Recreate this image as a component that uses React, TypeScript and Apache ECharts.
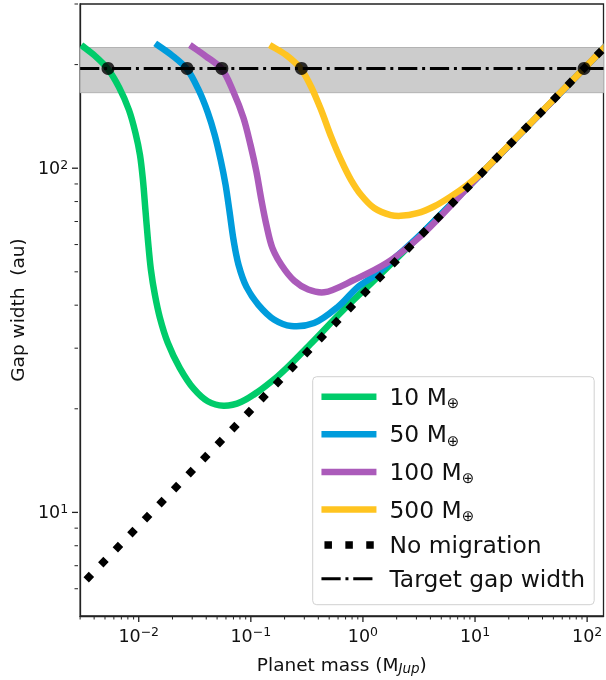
import React, { useEffect, useRef } from 'react';
import * as echarts from 'echarts';

// Planet mass (M_Jup) vs gap width (au) for each migration case
const migration10: [number, number][] = [
  [0.00307, 228], [0.004, 213], [0.00532, 194], [0.00667, 172], [0.00818, 147.6], [0.00935, 126.6],
  [0.01026, 109.3], [0.0109, 92.5], [0.01147, 75.7], [0.01208, 61.9], [0.01284, 50.7], [0.01393, 42.9],
  [0.01543, 36.8], [0.01816, 31.1], [0.0232, 26.3], [0.0309, 22.87], [0.0412, 21.03], [0.0571, 20.4],
  [0.0825, 20.96], [0.172, 24.8], [0.339, 30.8], [0.662, 38.6], [1.2, 46.5], [3, 62.3],
  [10, 92.5], [30, 133], [94, 195], [150, 228],
];
const migration50: [number, number][] = [
  [0.01402, 230.6], [0.01972, 213], [0.027, 194], [0.0343, 168.6], [0.0412, 145.6], [0.0476, 125],
  [0.0538, 105.7], [0.0595, 89.5], [0.0646, 74.7], [0.0701, 61.9], [0.0777, 52.4], [0.0914, 45.2],
  [0.1168, 40.1], [0.162, 36.3], [0.229, 34.8], [0.367, 35.5], [0.6, 39.6], [0.903, 45.2],
  [1.3, 49], [2, 55.5], [3, 62.5], [10, 92.5], [30, 133], [94, 195], [150, 228],
];
const migration100: [number, number][] = [
  [0.0286, 228], [0.0395, 211.8], [0.0552, 194], [0.07, 166.5], [0.086, 140], [0.0993, 116.9],
  [0.1122, 97.6], [0.1242, 80.9], [0.1377, 68.4], [0.1556, 58.7], [0.187, 52.4], [0.244, 47.1],
  [0.325, 44.4], [0.451, 43.6], [0.838, 47.4], [1.656, 53.2], [3.27, 63.5],
  [10, 92.5], [30, 133], [94, 195], [150, 228],
];
const migration500: [number, number][] = [
  [0.1472, 228], [0.207, 213], [0.281, 194], [0.345, 172.5], [0.424, 147.6], [0.52, 123.5],
  [0.637, 105.7], [0.782, 92.5], [0.96, 83.7], [1.259, 76.6], [1.77, 73.1], [2.17, 72.7],
  [3.06, 74], [4.3, 77.4], [6.05, 82.7], [8.51, 89.4], [11.95, 98.3], [16.8, 110], [30, 133.3],
  [94, 195], [150, 228],
];
const noMigration: [number, number][] = [[0.0034, 6.37], [1, 42.9], [94, 195], [150, 228]];
const targetGap: [number, number][] = [[0.003, 195], [140, 195]];
const targetBand = [165.75, 224.25];
const crossings: [number, number][] = [[0.00532, 195], [0.027, 195], [0.0552, 195], [0.283, 195], [94, 195]];

const seriesNames = ['10 M⊕', '50 M⊕', '100 M⊕', '500 M⊕'];
const seriesColors = ['#00cc6a', '#009cdc', '#ab5bba', '#ffc420'];
const curves = [migration10, migration50, migration100, migration500];

const xMajorTicks = [0.01, 0.1, 1, 10, 100];
const xMinorTicks = [
  0.003, 0.004, 0.005, 0.006, 0.007, 0.008, 0.009,
  0.02, 0.03, 0.04, 0.05, 0.06, 0.07, 0.08, 0.09,
  0.2, 0.3, 0.4, 0.5, 0.6, 0.7, 0.8, 0.9,
  2, 3, 4, 5, 6, 7, 8, 9,
  20, 30, 40, 50, 60, 70, 80, 90,
];
const yMajorTicks = [10, 100];
const yMinorTicks = [6, 7, 8, 9, 20, 30, 40, 50, 60, 70, 80, 90, 200, 300];

const FONT = 'DejaVu Sans';
const TXT = '#111';

function supLabel(v: number): string {
  const e = Math.log10(v);
  const r = Math.round(e);
  if (Math.abs(e - r) > 1e-6) return '';
  return '10{sup|' + (r < 0 ? '\u2212' + -r : String(r)) + '}';
}

// centripetal Catmull-Rom through pixel points -> SVG path data
function smoothPath(pts: number[][]): string {
  const n = pts.length;
  const dist = (a: number[], b: number[]) => Math.hypot(a[0] - b[0], a[1] - b[1]);
  let d = `M${pts[0][0]},${pts[0][1]}`;
  for (let i = 0; i < n - 1; i++) {
    const p1 = pts[i];
    const p2 = pts[i + 1];
    const p0 = i === 0 ? [2 * p1[0] - p2[0], 2 * p1[1] - p2[1]] : pts[i - 1];
    const p3 = i + 2 < n ? pts[i + 2] : [2 * p2[0] - p1[0], 2 * p2[1] - p1[1]];
    const d1 = Math.sqrt(dist(p0, p1));
    const d2 = Math.sqrt(dist(p1, p2));
    const d3 = Math.sqrt(dist(p2, p3));
    let b1 = p1;
    let b2 = p2;
    if (d1 > 1e-6 && d2 > 1e-6) {
      b1 = [0, 1].map((k) => (d1 * d1 * p2[k] - d2 * d2 * p0[k] + (2 * d1 * d1 + 3 * d1 * d2 + d2 * d2) * p1[k]) / (3 * d1 * (d1 + d2)));
    }
    if (d3 > 1e-6 && d2 > 1e-6) {
      b2 = [0, 1].map((k) => (d3 * d3 * p1[k] - d2 * d2 * p3[k] + (2 * d3 * d3 + 3 * d3 * d2 + d2 * d2) * p2[k]) / (3 * d3 * (d3 + d2)));
    }
    d += ` C${b1[0]},${b1[1]} ${b2[0]},${b2[1]} ${p2[0]},${p2[1]}`;
  }
  return d;
}

export default function App() {
  const ref = useRef<HTMLDivElement>(null);
  useEffect(() => {
    if (!ref.current) return;
    const chart = echarts.init(ref.current, undefined, { renderer: 'svg' });
    const tickRich = {
      sup: { fontSize: 12.5, fontFamily: FONT, color: TXT, padding: [0, 0, 8, 0] },
    };
    // legend carriers (no data) so the legend shows line icons
    const legendCarriers = seriesNames.map((n, i) => ({
      name: n,
      type: 'line',
      data: [],
      symbol: 'none',
      lineStyle: { color: seriesColors[i], width: 6.5 },
      itemStyle: { color: seriesColors[i] },
      silent: true,
    }));
    const curveSeries = curves.map((d, i) => ({
      name: seriesNames[i],
      type: 'custom',
      data: d,
      encode: { x: 0, y: 1 },
      z: 2,
      silent: true,
      itemStyle: { color: seriesColors[i] },
      renderItem: (params: any, api: any) => {
        if (params.dataIndex !== 0) return null;
        const pts = d.map((p) => api.coord(p));
        const cs = params.coordSys;
        return {
          type: 'path',
          shape: { pathData: smoothPath(pts) },
          style: { stroke: seriesColors[i], lineWidth: 6.5, fill: 'none', lineJoin: 'round' },
          clipPath: { type: 'rect', shape: { x: cs.x, y: cs.y, width: cs.width, height: cs.height } },
        };
      },
    }));
    const option: any = {
      animation: false,
      grid: { left: 78, right: 2.5, top: 4, bottom: 64, show: true, borderColor: '#222', borderWidth: 1.3, backgroundColor: 'transparent' },
      xAxis: {
        type: 'log',
        logBase: 10,
        min: 0.003,
        max: 140,
        name: 'Planet mass (M{sub|Jup})',
        nameLocation: 'middle',
        nameGap: 38,
        nameTextStyle: {
          fontSize: 18.5, fontFamily: FONT, color: TXT,
          rich: { sub: { fontSize: 13.5, fontStyle: 'italic', fontFamily: FONT, color: TXT, padding: [7, 0, 0, 0] } },
        },
        axisLine: { show: true, lineStyle: { color: '#222', width: 1.3 } },
        axisTick: { show: false },
        splitLine: { show: false },
        axisLabel: { formatter: supLabel, fontSize: 17.5, fontFamily: FONT, color: TXT, margin: 9, rich: tickRich, showMinLabel: false, showMaxLabel: false },
      },
      yAxis: {
        type: 'log',
        logBase: 10,
        min: 5,
        max: 300,
        name: 'Gap width  (au)',
        nameLocation: 'middle',
        nameGap: 51,
        nameTextStyle: { fontSize: 18.5, fontFamily: FONT, color: TXT },
        axisLine: { show: true, lineStyle: { color: '#222', width: 1.3 } },
        axisTick: { show: false },
        splitLine: { show: false },
        axisLabel: { formatter: supLabel, fontSize: 17.5, fontFamily: FONT, color: TXT, margin: 12, rich: tickRich, showMinLabel: false, showMaxLabel: false },
      },
      legend: {
        orient: 'vertical',
        left: 312.7,
        top: 376.7,
        padding: [6, 9, 14, 5],
        itemWidth: 55,
        itemHeight: 14,
        itemGap: 9.6,
        selectedMode: false,
        backgroundColor: 'rgba(255,255,255,0.8)',
        borderColor: '#d0d0d0',
        borderWidth: 1,
        borderRadius: 4,
        formatter: (name: string) => name.replace('M⊕', 'M{sub|⊕}'),
        textStyle: {
          fontSize: 23.4, fontFamily: FONT, color: TXT, lineHeight: 28, padding: [0, 0, 0, 8],
          rich: { sub: { fontSize: 15, fontFamily: FONT, color: TXT, padding: [13, 0, 0, 0] } },
        },
        data: [
          ...seriesNames.map((n) => ({ name: n, lineStyle: { width: 6.5 }, itemStyle: { opacity: 0 } })),
          { name: 'No migration', lineStyle: { width: 7.5, type: [7.5, 13.4], dashOffset: -3 }, itemStyle: { opacity: 0 }, textStyle: { lineHeight: 24 } },
          { name: 'Target gap width', lineStyle: { width: 3, type: [19.2, 4.8, 3, 4.8] }, itemStyle: { opacity: 0 }, textStyle: { lineHeight: 24 } },
        ],
      },
      series: [
        ...legendCarriers,
        ...curveSeries,
        {
          name: 'No migration',
          type: 'line',
          data: noMigration,
          symbol: 'none',
          showSymbol: false,
          z: 3,
          silent: true,
          lineStyle: { color: '#000', width: 7.5, type: [7.5, 13.4], cap: 'butt' },
          itemStyle: { color: '#000' },
        },
        {
          name: 'Target gap width',
          type: 'line',
          data: targetGap,
          symbol: 'none',
          showSymbol: false,
          z: 4,
          silent: true,
          lineStyle: { color: '#000', width: 3, type: [19.2, 4.8, 3, 4.8] },
          itemStyle: { color: '#000' },
          markArea: {
            silent: true,
            z: 1,
            itemStyle: { color: '#cccccc', borderColor: '#b3b3b3', borderWidth: 1 },
            data: [[{ yAxis: targetBand[0] }, { yAxis: targetBand[1] }]],
          },
        },
        {
          name: 'crossings',
          type: 'scatter',
          data: crossings,
          symbol: 'circle',
          symbolSize: 13,
          z: 5,
          silent: true,
          itemStyle: { color: '#000' },
        },
      ],
    };
    chart.setOption(option);

    const els: any[] = [];
    const xAxisY = 616;
    const yAxisX = 78;
    const addX = (v: number, len: number, w: number) => {
      const px = chart.convertToPixel({ xAxisIndex: 0 }, v) as number;
      els.push({ type: 'line', silent: true, shape: { x1: px, y1: xAxisY, x2: px, y2: xAxisY + len }, style: { stroke: '#222', lineWidth: w } });
    };
    const addY = (v: number, len: number, w: number) => {
      const py = chart.convertToPixel({ yAxisIndex: 0 }, v) as number;
      els.push({ type: 'line', silent: true, shape: { x1: yAxisX, y1: py, x2: yAxisX - len, y2: py }, style: { stroke: '#222', lineWidth: w } });
    };
    xMajorTicks.forEach((v) => addX(v, 6, 1.3));
    xMinorTicks.forEach((v) => addX(v, 3.5, 1));
    yMajorTicks.forEach((v) => addY(v, 6, 1.3));
    yMinorTicks.forEach((v) => addY(v, 3.5, 1));
    chart.setOption({ graphic: { elements: els } });

    return () => chart.dispose();
  }, []);
  return <div ref={ref} style={{ position: 'fixed', left: 0, top: 0, width: 606, height: 680 }} />;
}
